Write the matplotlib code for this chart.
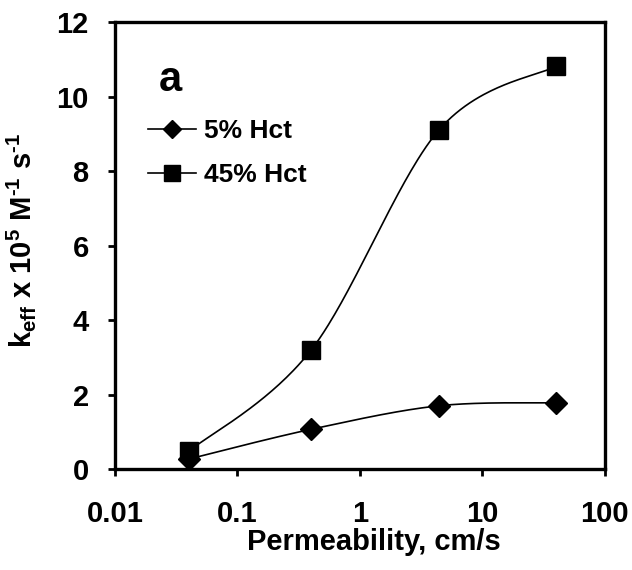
import matplotlib
matplotlib.use("Agg")
import matplotlib.pyplot as plt
import numpy as np

plt.rcParams['font.family'] = ['Liberation Sans', 'DejaVu Sans']
plt.rcParams['font.weight'] = 'bold'
plt.rcParams['mathtext.fontset'] = 'custom'
plt.rcParams['mathtext.rm'] = 'Liberation Sans:bold'
plt.rcParams['mathtext.bf'] = 'Liberation Sans:bold'
plt.rcParams['mathtext.it'] = 'Liberation Sans:bold'

permeability = [0.04, 0.4, 4.4, 40]
hct5 = [0.27, 1.07, 1.70, 1.78]
hct45 = [0.48, 3.20, 9.10, 10.82]


def smooth(xs, ys, n=60):
    # Catmull-Rom curve through the points, in log10(x) space (like Excel's smoothed line)
    lx = np.log10(xs)
    ys = np.asarray(ys, float)
    px = np.concatenate([[lx[0]], lx, [lx[-1]]])
    py = np.concatenate([[ys[0]], ys, [ys[-1]]])
    ox, oy = [], []
    t = np.linspace(0, 1, n)
    for i in range(1, len(px) - 2):
        p0, p1, p2, p3 = [np.array([px[j], py[j]]) for j in (i - 1, i, i + 1, i + 2)]
        c1 = p1 + (p2 - p0) / 6
        c2 = p2 - (p3 - p1) / 6
        b = ((1 - t) ** 3)[:, None] * p1 + (3 * (1 - t) ** 2 * t)[:, None] * c1 \
            + (3 * (1 - t) * t ** 2)[:, None] * c2 + (t ** 3)[:, None] * p2
        ox.extend(b[:, 0]); oy.extend(b[:, 1])
    return 10 ** np.array(ox), np.array(oy)


fig = plt.figure(figsize=(6.32, 5.70), dpi=100)
ax = fig.add_axes([0.182, 0.177, 0.775, 0.784])

for ys, mk, ms, lab in [(hct5, 'D', 11, '5% Hct'), (hct45, 's', 13, '45% Hct')]:
    sx, sy = smooth(permeability, ys)
    ax.plot(sx, sy, color='black', lw=1.2)
    ax.plot(permeability, ys, linestyle='none', marker=mk, ms=ms, color='black')
    ax.plot([], [], color='black', lw=1.2, marker=mk, ms=ms * 0.85, label=lab)

ax.set_xscale('log')
ax.set_xlim(0.01, 100)
ax.set_ylim(0, 12)
ax.set_yticks([0, 2, 4, 6, 8, 10, 12])
ax.set_xticks([0.01, 0.1, 1, 10, 100])
ax.set_xticklabels(['0.01', '0.1', '1', '10', '100'])
ax.minorticks_off()

for s in ax.spines.values():
    s.set_linewidth(2.4)
ax.tick_params(axis='both', direction='out', length=5, width=2, labelsize=21)
ax.tick_params(axis='x', pad=17)
ax.tick_params(axis='y', pad=14)

ax.set_xlabel('Permeability, cm/s', fontsize=21, fontweight='bold')
ax.set_ylabel(r'k$_{\mathrm{eff}}$ x 10$^{5}$ M$^{\text{-1}}$ s$^{\text{-1}}$',
              fontsize=21, fontweight='bold')
ax.xaxis.set_label_coords(0.529, -0.132)
ax.yaxis.set_label_coords(-0.157, 0.512)

ax.text(0.09, 0.87, 'a', transform=ax.transAxes, fontsize=30, fontweight='bold',
        va='center')
ax.legend(loc='upper left', bbox_to_anchor=(0.045, 0.807), frameon=False,
          fontsize=19, handlelength=1.85, handletextpad=0.27, labelspacing=0.75,
          borderaxespad=0)

fig.savefig('out.png', dpi=100)
